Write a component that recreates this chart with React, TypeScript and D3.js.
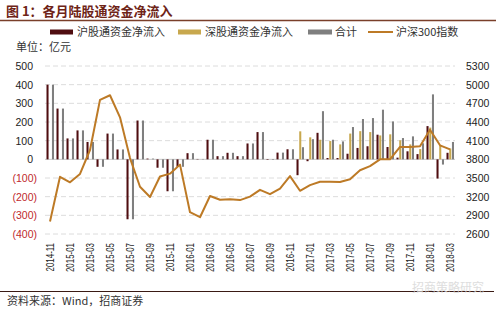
import React from "react";
import * as d3 from "d3";

const months = [
  "2014-11","2014-12","2015-01","2015-02","2015-03","2015-04","2015-05","2015-06","2015-07","2015-08",
  "2015-09","2015-10","2015-11","2015-12","2016-01","2016-02","2016-03","2016-04","2016-05","2016-06",
  "2016-07","2016-08","2016-09","2016-10","2016-11","2016-12","2017-01","2017-02","2017-03","2017-04",
  "2017-05","2017-06","2017-07","2017-08","2017-09","2017-10","2017-11","2017-12","2018-01","2018-02","2018-03",
];

const shFlow = [
  400, 272, 112, 155, 93, -40, 138, 53, -321, 208,
  4, -45, -171, -40, 33, 2, 105, 17, 35, 17,
  85, 146, -3, 36, 54, -85, -10, 142, 7, 7,
  30, 61, 70, 132, 66, 9, 43, 28, 178, -103, 35,
];

const szFlow = [
  0, 0, 0, 0, 0, 0, 0, 0, 0, 0,
  0, 0, 0, 0, 0, 0, 0, 0, 0, 0,
  0, 0, 0, 0, 0, 150, 118, 105, 98, 80,
  138, 151, 146, 128, 134, 102, 80, 55, 170, 75, 58,
];

const totalFlow = [
  400, 272, 112, 155, 93, -40, 138, 53, -321, 208,
  4, -45, -171, -40, 33, 2, 105, 17, 35, 17,
  85, 146, -3, 36, 54, 65, 108, 258, 105, 96,
  173, 216, 221, 266, 203, 114, 123, 86, 348, -28, 93,
];

const hs300 = [
  2800, 3520, 3430, 3565, 3950, 4755, 4830, 4475, 3820, 3360,
  3195, 3525, 3570, 3715, 2950, 2870, 3210, 3150, 3160, 3145,
  3200, 3310, 3240, 3330, 3530, 3295, 3385, 3440, 3440, 3435,
  3480, 3625, 3690, 3800, 3800, 4000, 4000, 4010, 4275, 4025, 3960,
];

const leftTicks = [500, 400, 300, 200, 100, 0, -100, -200, -300, -400];
const rightTicks = [5300, 5000, 4700, 4400, 4100, 3800, 3500, 3200, 2900, 2600];

const seriesKeys = ["sh", "sz", "total"];
const seriesNames = ["沪股通资金净流入", "深股通资金净流入", "合计", "沪深300指数"];
const colors = { sh: "#4f0d10", sz: "#c8a84e", total: "#7f7f7f", line: "#bd7a26" };

const CJK = "'Noto Sans CJK SC', 'Liberation Sans', sans-serif";
const NUM = "'Liberation Sans', Arial, sans-serif";

export default function App() {
  const x = d3.scaleBand<string>().domain(months).range([45, 455]).padding(0);
  const xInner = d3.scaleBand<string>().domain(seriesKeys).range([1.5, 9]).paddingInner(0.25).paddingOuter(0);
  const yL = d3.scaleLinear().domain([-400, 500]).range([234, 66]);
  const yR = d3.scaleLinear().domain([2600, 5300]).range([234, 66]);

  const seriesData: Record<string, number[]> = { sh: shFlow, sz: szFlow, total: totalFlow };

  const line = d3
    .line<number>()
    .x((_, i) => (x(months[i]) as number) + x.bandwidth() / 2)
    .y((d) => yR(d));

  const fmtLeft = (v: number) => (v < 0 ? `(${Math.abs(v)})` : `${v}`);

  return (
    <svg
      width={500}
      height={311}
      style={{ position: "absolute", left: 0, top: 0, background: "#fff" }}
    >
      {/* Title */}
      <text x={6} y={16} fontFamily={CJK} fontSize={13} fontWeight="bold" fill="#6e2417">
        图 1：各月陆股通资金净流入
      </text>
      <line x1={0} x2={496} y1={20.5} y2={20.5} stroke="#7a3f2a" strokeWidth={1.5} />

      {/* Legend */}
      <rect x={50} y={29.5} width={23} height={5} fill={colors.sh} />
      <text x={77} y={36} fontFamily={CJK} fontSize={11} fill="#333">{seriesNames[0]}</text>
      <rect x={178} y={29.5} width={23} height={5} fill={colors.sz} />
      <text x={205} y={36} fontFamily={CJK} fontSize={11} fill="#333">{seriesNames[1]}</text>
      <rect x={308} y={29.5} width={24} height={5} fill={colors.total} />
      <text x={335} y={36} fontFamily={CJK} fontSize={11} fill="#333">{seriesNames[2]}</text>
      <line x1={368} x2={393} y1={32} y2={32} stroke={colors.line} strokeWidth={2} />
      <text x={396} y={36} fontFamily={CJK} fontSize={11} fill="#333">{seriesNames[3]}</text>

      <text x={16} y={51} fontFamily={CJK} fontSize={11} fill="#333">单位：亿元</text>

      {/* Gridlines */}
      {leftTicks.map((t) => (
        <line
          key={"g" + t}
          x1={45}
          x2={455}
          y1={yL(t)}
          y2={yL(t)}
          stroke={t === 0 ? "#c8c8c8" : "#dcdcdc"}
          strokeWidth={1}
          strokeDasharray={t === 0 ? undefined : "5,3"}
        />
      ))}

      {/* Left axis labels */}
      {leftTicks.map((t) => (
        <text
          key={"l" + t}
          x={t < 0 ? 37 : 33}
          y={yL(t) + 4}
          textAnchor="end"
          fontFamily={NUM}
          fontSize={10.5}
          fill={t < 0 ? "#c0282d" : "#222"}
        >
          {fmtLeft(t)}
        </text>
      ))}

      {/* Right axis labels */}
      {rightTicks.map((t) => (
        <text
          key={"r" + t}
          x={466}
          y={yR(t) + 4}
          textAnchor="start"
          fontFamily={NUM}
          fontSize={10.5}
          fill="#222"
        >
          {t}
        </text>
      ))}

      {/* Bars */}
      {months.map((m, i) => (
        <g key={"b" + m} transform={`translate(${x(m)},0)`}>
          {seriesKeys.map((k) => {
            const v = seriesData[k][i];
            if (v === 0) return null;
            const y0 = yL(0);
            const y1 = yL(v);
            return (
              <rect
                key={k}
                x={xInner(k) as number}
                y={Math.min(y0, y1)}
                width={xInner.bandwidth()}
                height={Math.abs(y1 - y0)}
                fill={(colors as any)[k]}
              />
            );
          })}
        </g>
      ))}

      {/* HS300 line */}
      <path d={line(hs300) || ""} fill="none" stroke={colors.line} strokeWidth={2} strokeLinejoin="round" />

      {/* X labels */}
      {months.map((m, i) =>
        i % 2 === 0 ? (
          <text
            key={"x" + m}
            transform={`translate(${(x(m) as number) + x.bandwidth() / 2 + 4},243) rotate(-90) scale(0.72,1)`}
            textAnchor="end"
            fontFamily={NUM}
            fontSize={11}
            fill="#222"
          >
            {m}
          </text>
        ) : null
      )}

      {/* Bottom rule and source */}
      <line x1={0} x2={494} y1={291.5} y2={291.5} stroke="#3a1a14" strokeWidth={1} />
      <text x={7} y={305} fontFamily={CJK} fontSize={11} fill="#333">
        资料来源：Wind，招商证券
      </text>
      <text x={412} y={292} fontFamily={CJK} fontSize={12} fill="#d6d6d6" opacity={0.8}>
        招商策略研究
      </text>
    </svg>
  );
}
